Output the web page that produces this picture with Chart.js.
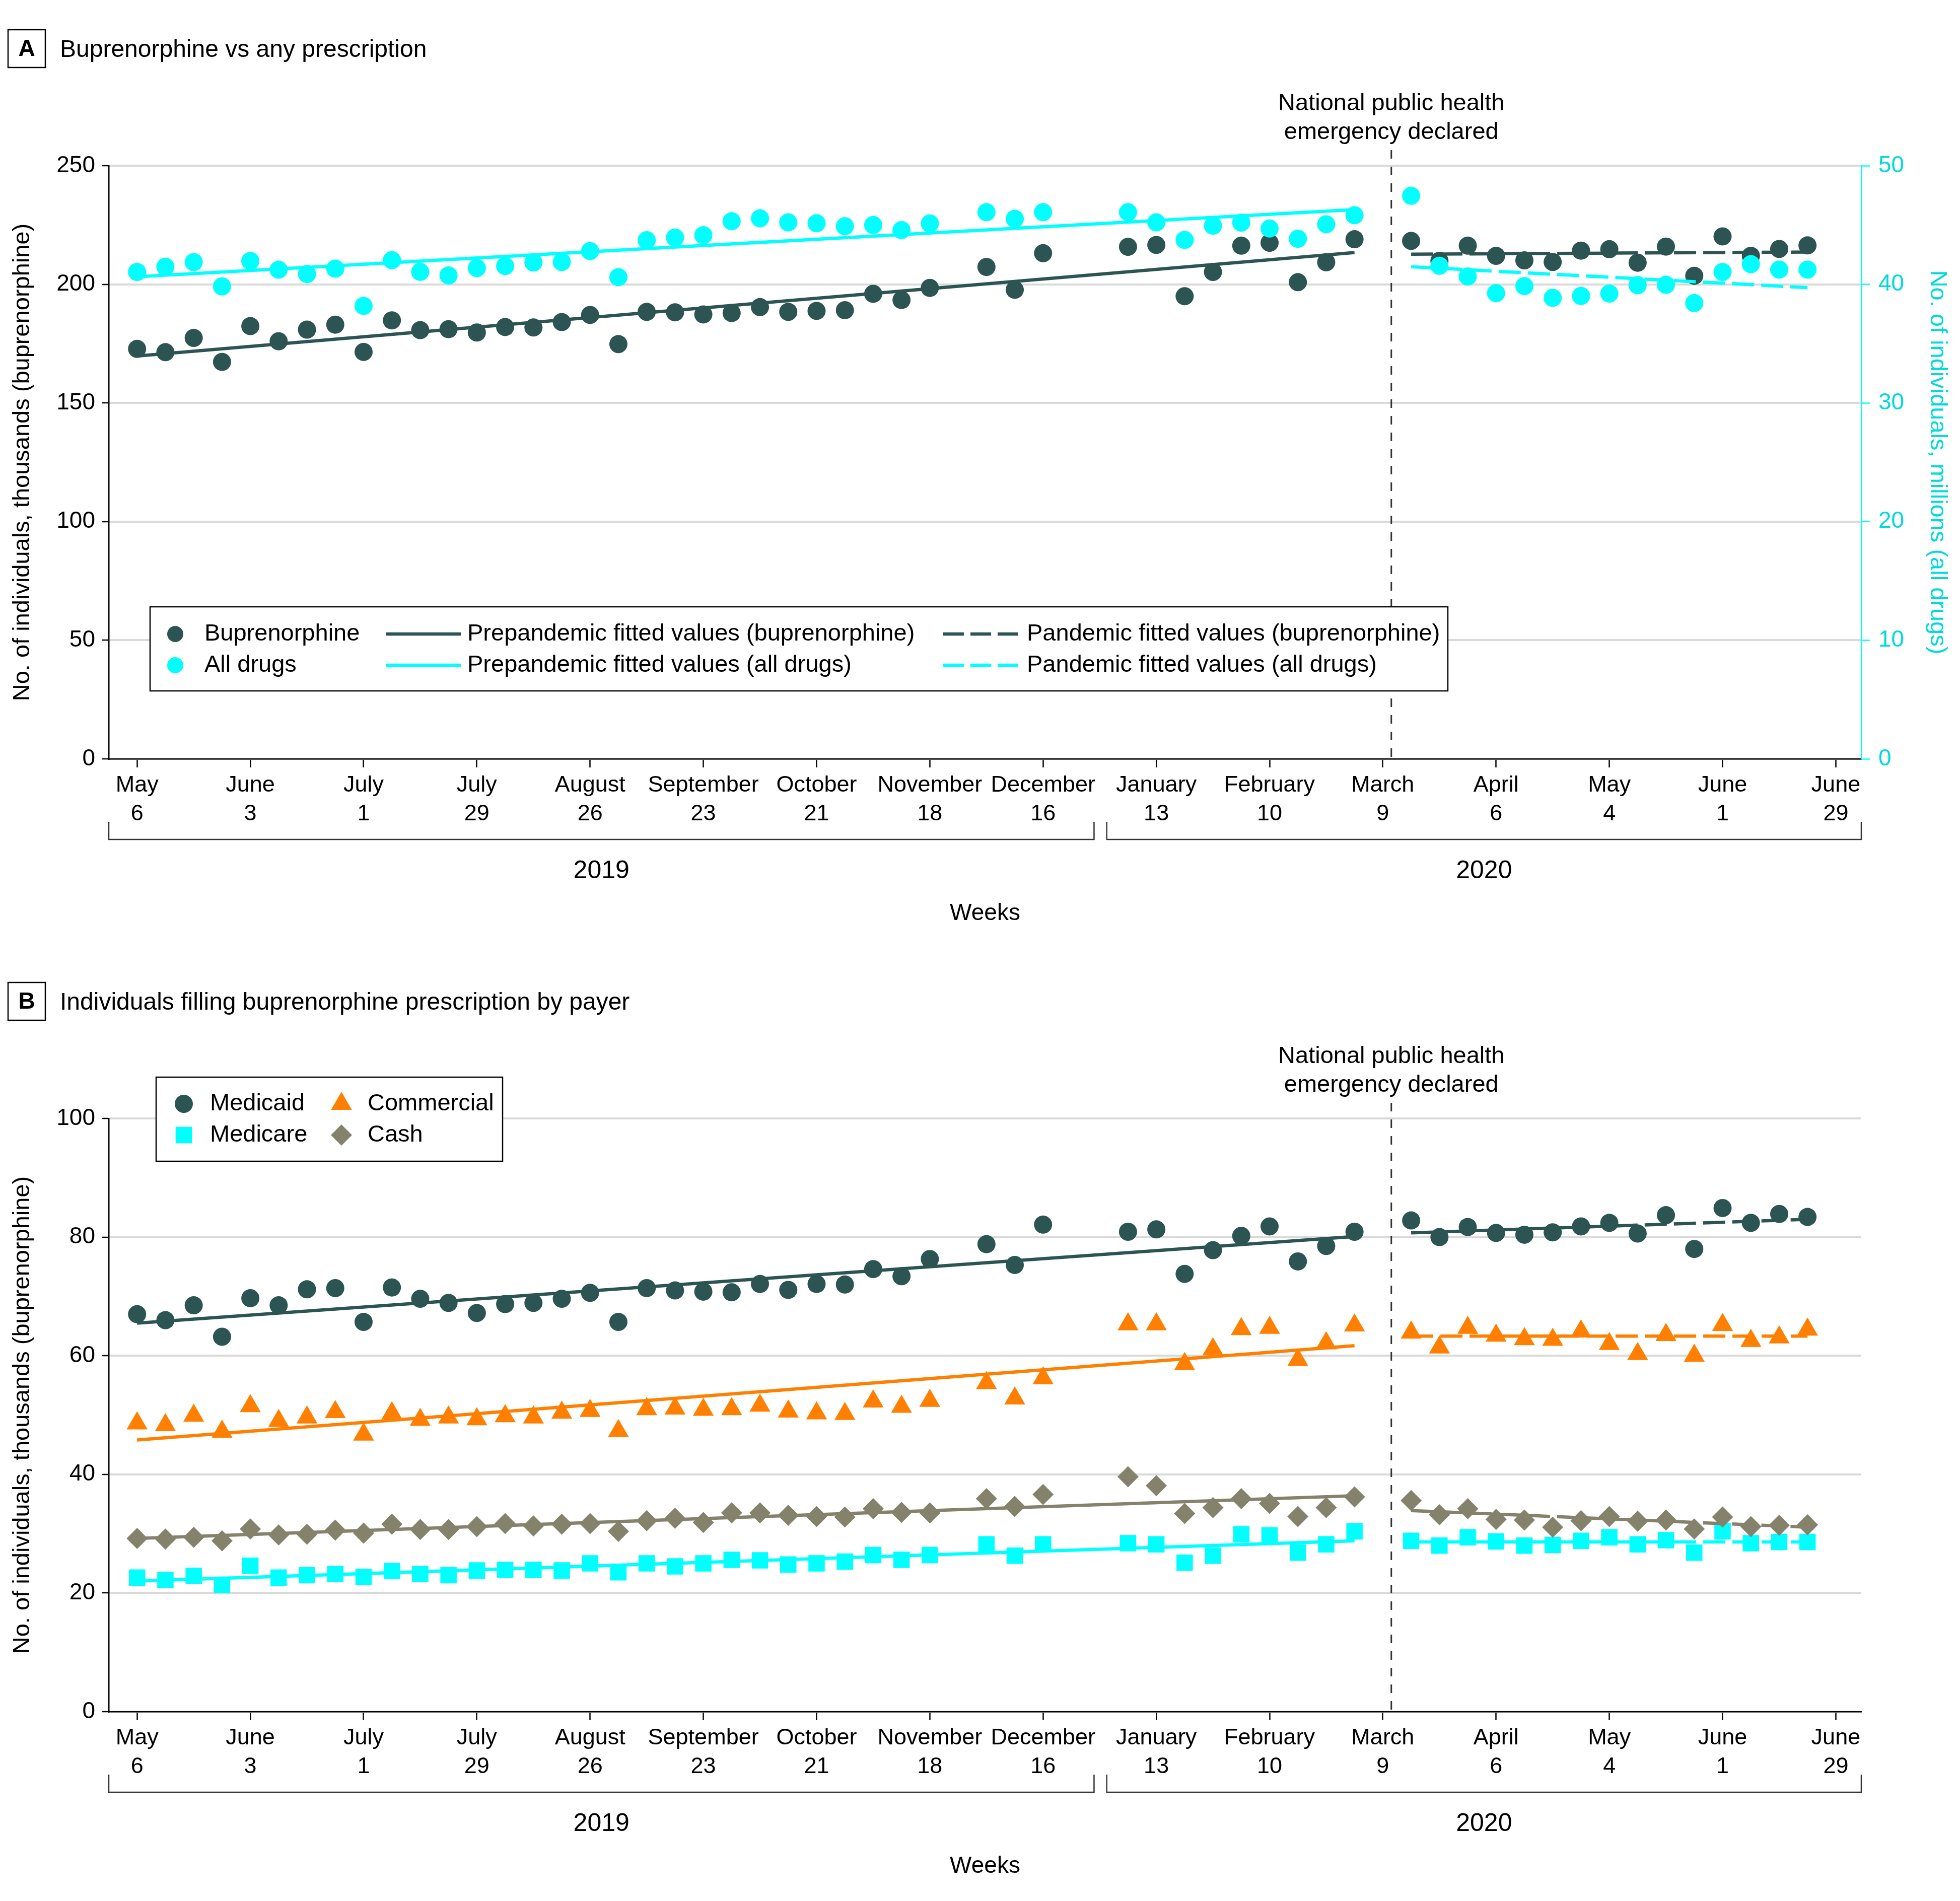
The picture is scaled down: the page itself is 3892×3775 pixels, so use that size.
<!DOCTYPE html>
<html>
<head>
<meta charset="utf-8">
<script src="https://cdn.jsdelivr.net/npm/chart.js@4.4.1/dist/chart.umd.min.js"></script>
<style>
  html, body { margin: 0; padding: 0; background: #fff; overflow: hidden; }
  .panel { position: absolute; left: 0; width: 3892px; height: 1892px; }
  #pa { top: 0; }
  #pb { top: 1892px; }
</style>
</head>
<body>
<div class="panel" id="pa"><canvas id="ca" width="3892" height="1892"></canvas></div>
<div class="panel" id="pb"><canvas id="cb" width="3892" height="1892"></canvas></div>
<script>
// Weekly buprenorphine fills, May 2019 - June 2020.
const FONT = '"Liberation Sans", Arial, sans-serif';
const DARK = '#2B5453', CYAN = '#00FFFF', CYAN_TXT = '#00DADA', ORANGE = '#FF8000', CASH = '#85826C', GRID = '#D9D9D9';

// x = weeks since May 6, 2019 (weeks of Nov 25, Dec 23, Dec 30 and Mar 9 are not plotted)
const weeks = [0, 1, 2, 3, 4, 5, 6, 7, 8, 9, 10, 11, 12, 13, 14,
  15, 16, 17, 18, 19, 20, 21, 22, 23, 24, 25, 26, 27, 28,
  30, 31, 32,
  35, 36, 37, 38, 39, 40, 41, 42, 43,
  45, 46, 47, 48, 49, 50, 51, 52, 53, 54, 55, 56, 57, 58, 59];
const tickWeeks = [0, 4, 8, 12, 16, 20, 24, 28, 32, 36, 40, 44, 48, 52, 56, 60];
const tickMonths = ['May', 'June', 'July', 'July', 'August', 'September', 'October', 'November', 'December',
  'January', 'February', 'March', 'April', 'May', 'June', 'June'];
const tickDays = ['6', '3', '1', '29', '26', '23', '21', '18', '16', '13', '10', '9', '6', '4', '1', '29'];
const years = ['2019', '2020'];
const yearSpans = [[-1, 33.8], [34.25, 60.9]];
const emergencyWeek = 44.3;

// panel A: buprenorphine (thousands) and all drugs (millions)
const buprenorphine = [172.8, 171.4, 177.4, 167.3, 182.4, 176.0, 180.9, 183.0, 171.5, 184.8, 180.7, 181.1, 179.7, 182.0, 181.8,
  184.1, 187.1, 174.8, 188.4, 188.2, 187.3, 187.9, 190.4, 188.4, 188.8, 189.1, 196.0, 193.4, 198.5,
  207.3, 197.7, 213.1,
  215.8, 216.6, 195.0, 205.2, 216.3, 217.5, 200.9, 209.3, 219.0,
  218.3, 209.9, 216.3, 212.0, 210.1, 209.4, 214.2, 214.8, 209.1, 215.9, 203.6, 220.2, 212.0, 214.9, 216.4];
const allDrugs = [41.04, 41.48, 41.87, 39.82, 41.97, 41.23, 40.87, 41.32, 38.18, 42.04, 41.05, 40.75, 41.37, 41.54, 41.84,
  41.88, 42.80, 40.60, 43.72, 43.94, 44.14, 45.32, 45.56, 45.22, 45.15, 44.90, 45.00, 44.57, 45.13,
  46.08, 45.52, 46.08,
  46.08, 45.22, 43.74, 44.94, 45.20, 44.70, 43.84, 45.06, 45.82,
  47.46, 41.56, 40.66, 39.26, 39.85, 38.86, 39.02, 39.22, 39.93, 39.96, 38.42, 41.04, 41.70, 41.24, 41.24];

// panel B: by payer (thousands)
const medicaid = [67.0, 66.0, 68.5, 63.2, 69.7, 68.5, 71.2, 71.4, 65.7, 71.5, 69.6, 68.9, 67.2, 68.7, 68.9,
  69.6, 70.6, 65.7, 71.4, 71.0, 70.8, 70.7, 72.1, 71.1, 72.1, 72.0, 74.6, 73.4, 76.3,
  78.8, 75.3, 82.1,
  80.9, 81.3, 73.8, 77.8, 80.2, 81.8, 75.9, 78.5, 80.9,
  82.8, 80.0, 81.7, 80.7, 80.4, 80.8, 81.8, 82.4, 80.6, 83.7, 78.0, 84.9, 82.4, 83.9, 83.4];
const commercial = [48.6, 48.3, 49.9, 47.2, 51.5, 49.0, 49.6, 50.5, 46.7, 50.3, 49.2, 49.6, 49.3, 49.8, 49.6,
  50.4, 50.7, 47.3, 51.0, 51.1, 50.9, 51.0, 51.6, 50.6, 50.3, 50.2, 52.3, 51.4, 52.4,
  55.4, 52.8, 56.2,
  65.3, 65.3, 58.6, 61.1, 64.5, 64.7, 59.3, 62.1, 65.1,
  63.9, 61.4, 64.7, 63.4, 62.8, 62.7, 64.1, 62.0, 60.3, 63.5, 60.0, 65.2, 62.5, 63.1, 64.4];
const cash = [29.2, 29.1, 29.4, 28.8, 30.8, 29.8, 29.9, 30.6, 30.1, 31.6, 30.7, 30.7, 31.2, 31.7, 31.3,
  31.6, 31.7, 30.4, 32.2, 32.6, 31.9, 33.5, 33.5, 33.1, 32.9, 32.8, 34.2, 33.6, 33.5,
  35.9, 34.6, 36.6,
  39.6, 38.1, 33.4, 34.4, 35.9, 35.1, 32.9, 34.4, 36.2,
  35.6, 33.2, 34.2, 32.4, 32.3, 31.1, 32.2, 32.9, 32.1, 32.3, 30.8, 32.8, 31.2, 31.4, 31.5];
const medicare = [22.6, 22.2, 22.9, 21.4, 24.6, 22.6, 23.0, 23.2, 22.7, 23.7, 23.2, 23.0, 23.8, 23.9, 23.9,
  23.8, 25.0, 23.5, 25.0, 24.5, 25.0, 25.6, 25.5, 24.8, 25.0, 25.3, 26.4, 25.6, 26.4,
  28.2, 26.3, 28.2,
  28.4, 28.2, 25.1, 26.3, 29.9, 29.7, 26.8, 28.2, 30.4,
  28.8, 28.0, 29.4, 28.7, 28.0, 28.1, 28.8, 29.4, 28.2, 28.9, 26.8, 30.4, 28.4, 28.6, 28.6];

// fitted trend lines: start and end values over these weeks
const fitPreWeeks = [0, 43], fitPanWeeks = [45, 59];
const bupFitPre = [169.8, 213.4], bupFitPan = [212.7, 213.6];
const allFitPre = [40.64, 46.3], allFitPan = [41.48, 39.72];
const medicaidFitPre = [65.5, 80.1], medicaidFitPan = [80.7, 83.0];
const commercialFitPre = [45.8, 61.7], commercialFitPan = [63.3, 63.3];
const cashFitPre = [29.2, 36.4], cashFitPan = [33.9, 31.1];
const medicareFitPre = [22.0, 28.8], medicareFitPan = [28.6, 28.6];

const DASH = [44, 14];
const pts = (ys, xs = weeks) => ys.map((y, i) => ({ x: xs[i], y }));
const dots = (label, ys, color, style, r, order, axis = 'y') => ({
  label, data: pts(ys), yAxisID: axis, showLine: false, order,
  backgroundColor: color, borderWidth: 0, pointStyle: style, pointRadius: r, pointHoverRadius: r,
});
const fit = (label, ys, xs, color, dash, axis = 'y') => ({
  label, data: pts(ys, xs), yAxisID: axis, showLine: true, order: 0,
  borderColor: color, borderWidth: 6.5, borderDash: dash, borderCapStyle: 'butt', pointRadius: 0, pointHoverRadius: 0, fill: false,
});

const font = (size, extra) => Object.assign({ family: FONT, size, lineHeight: 1.2 }, extra || {});

function xScale() {
  return {
    type: 'linear', min: -1, max: 60.9,
    afterBuildTicks: (s) => { s.ticks = tickWeeks.map((v) => ({ value: v })); },
    afterFit: (s) => { s.height = 385; },
    grid: { drawOnChartArea: false, tickLength: 17, tickColor: '#000', tickWidth: 2.5 },
    border: { color: '#000', width: 2.5 },
    ticks: {
      autoSkip: false, maxRotation: 0, minRotation: 0, padding: 7, color: '#000', font: font(45, { lineHeight: 1.27 }),
      callback: (v) => { const i = tickWeeks.indexOf(v); return i < 0 ? '' : [tickMonths[i], tickDays[i]]; },
    },
    title: { display: true, text: 'Weeks', color: '#000', font: font(46), padding: { top: 0, bottom: 50 } },
  };
}

function yScale(max, step) {
  return {
    type: 'linear', position: 'left', min: 0, max,
    afterFit: (s) => { s.width = 216; },
    grid: { color: GRID, lineWidth: 4, tickColor: '#000', tickLength: 14, tickWidth: 2.5 },
    border: { color: '#000', width: 2.5 },
    ticks: { stepSize: step, padding: 13, color: '#000', font: font(46) },
    title: { display: true, text: 'No. of individuals, thousands (buprenorphine)', color: '#000', font: font(47), padding: { top: 17 } },
  };
}

// panel heading, emergency marker, year brackets and the boxed legend
const decor = {
  id: 'decor',
  afterDraw(chart, args, o) {
    const { ctx, chartArea: ca } = chart;
    const x = chart.scales.x;
    ctx.save();
    ctx.strokeStyle = '#000'; ctx.lineWidth = 2.5;
    ctx.strokeRect(16, 59, 74, 75);
    ctx.fillStyle = '#000'; ctx.textAlign = 'center'; ctx.textBaseline = 'middle';
    ctx.font = `bold 46px ${FONT}`;
    ctx.fillText(o.letter, 53, 98);
    ctx.textAlign = 'left'; ctx.textBaseline = 'alphabetic';
    ctx.font = `48px ${FONT}`;
    ctx.fillText(o.heading, 119, 113);

    const ex = x.getPixelForValue(emergencyWeek);
    ctx.strokeStyle = '#333'; ctx.lineWidth = 3; ctx.setLineDash([17, 16]);
    ctx.beginPath(); ctx.moveTo(ex, 298); ctx.lineTo(ex, ca.bottom); ctx.stroke();
    ctx.setLineDash([]);
    ctx.textAlign = 'center'; ctx.textBaseline = 'middle'; ctx.font = `47px ${FONT}`;
    ctx.fillText('National public health', ex, 206);
    ctx.fillText('emergency declared', ex, 263);

    ctx.strokeStyle = '#333'; ctx.lineWidth = 2.5;
    ctx.font = `50px ${FONT}`;
    yearSpans.forEach(([a, b], i) => {
      const x0 = x.getPixelForValue(Math.max(a, x.min)), x1 = x.getPixelForValue(Math.min(b, x.max));
      ctx.beginPath(); ctx.moveTo(x0, 1632); ctx.lineTo(x0, 1667); ctx.lineTo(x1, 1667); ctx.lineTo(x1, 1632); ctx.stroke();
      ctx.fillText(years[i], (x0 + x1) / 2, 1730);
    });

    const lg = o.legend;
    ctx.fillStyle = '#fff';
    ctx.fillRect(lg.box[0], lg.box[1], lg.box[2], lg.box[3]);
    ctx.strokeStyle = '#000'; ctx.lineWidth = 2.5;
    ctx.strokeRect(lg.box[0], lg.box[1], lg.box[2], lg.box[3]);
    ctx.textAlign = 'left'; ctx.font = `47px ${FONT}`;
    for (const it of lg.items) {
      const y = lg.rows[it.row];
      if (it.dash) {
        ctx.strokeStyle = it.color; ctx.lineWidth = 6.5; ctx.setLineDash(it.dash);
        ctx.beginPath(); ctx.moveTo(it.mx, y); ctx.lineTo(it.mx + 148, y); ctx.stroke();
        ctx.setLineDash([]);
      } else {
        ctx.fillStyle = it.color;
        Chart.helpers.drawPoint(ctx, { pointStyle: it.style, radius: it.r, borderWidth: 0, rotation: 0 }, it.mx, y);
      }
      ctx.fillStyle = '#000';
      ctx.fillText(it.text, it.tx, y);
    }
    ctx.restore();
  },
};

new Chart(document.getElementById('ca'), {
  type: 'scatter',
  data: {
    datasets: [
      fit('Prepandemic fitted values (buprenorphine)', bupFitPre, fitPreWeeks, DARK, []),
      fit('Pandemic fitted values (buprenorphine)', bupFitPan, fitPanWeeks, DARK, DASH),
      fit('Prepandemic fitted values (all drugs)', allFitPre, fitPreWeeks, CYAN, [], 'y1'),
      fit('Pandemic fitted values (all drugs)', allFitPan, fitPanWeeks, CYAN, DASH, 'y1'),
      dots('All drugs', allDrugs, CYAN, 'circle', 18, 1, 'y1'),
      dots('Buprenorphine', buprenorphine, DARK, 'circle', 18, 2),
    ],
  },
  options: {
    responsive: false, animation: false, devicePixelRatio: 1,
    layout: { padding: { top: 329, left: 0, right: 0, bottom: 0 } },
    scales: {
      x: xScale(),
      y: yScale(250, 50),
      y1: {
        type: 'linear', position: 'right', min: 0, max: 50,
        afterFit: (s) => { s.width = 196; },
        grid: { drawOnChartArea: false, tickColor: CYAN, tickLength: 17, tickWidth: 2.5 },
        border: { color: CYAN, width: 3 },
        ticks: { stepSize: 10, padding: 17, color: CYAN_TXT, font: font(46) },
        title: { display: true, text: 'No. of individuals, millions (all drugs)', color: CYAN_TXT, font: font(47), padding: { top: 17 } },
      },
    },
    plugins: {
      legend: { display: false }, tooltip: { enabled: false },
      decor: {
        letter: 'A', heading: 'Buprenorphine vs any prescription',
        legend: {
          box: [298, 1205, 2577, 167], rows: [1259, 1321],
          items: [
            { row: 0, mx: 348, tx: 406, style: 'circle', r: 16, color: DARK, text: 'Buprenorphine' },
            { row: 1, mx: 348, tx: 406, style: 'circle', r: 16, color: CYAN, text: 'All drugs' },
            { row: 0, mx: 767, tx: 928, dash: [], color: DARK, text: 'Prepandemic fitted values (buprenorphine)' },
            { row: 1, mx: 767, tx: 928, dash: [], color: CYAN, text: 'Prepandemic fitted values (all drugs)' },
            { row: 0, mx: 1873, tx: 2039, dash: [41, 13], color: DARK, text: 'Pandemic fitted values (buprenorphine)' },
            { row: 1, mx: 1873, tx: 2039, dash: [41, 13], color: CYAN, text: 'Pandemic fitted values (all drugs)' },
          ],
        },
      },
    },
  },
  plugins: [decor],
});

new Chart(document.getElementById('cb'), {
  type: 'scatter',
  data: {
    datasets: [
      fit('Medicaid fit', medicaidFitPre, fitPreWeeks, DARK, []),
      fit('Medicaid pandemic fit', medicaidFitPan, fitPanWeeks, DARK, DASH),
      fit('Commercial fit', commercialFitPre, fitPreWeeks, ORANGE, []),
      fit('Commercial pandemic fit', commercialFitPan, fitPanWeeks, ORANGE, DASH),
      fit('Cash fit', cashFitPre, fitPreWeeks, CASH, []),
      fit('Cash pandemic fit', cashFitPan, fitPanWeeks, CASH, DASH),
      fit('Medicare fit', medicareFitPre, fitPreWeeks, CYAN, []),
      fit('Medicare pandemic fit', medicareFitPan, fitPanWeeks, CYAN, DASH),
      dots('Cash', cash, CASH, 'rectRot', 21, 1),
      dots('Medicare', medicare, CYAN, 'rect', 23, 2),
      dots('Commercial', commercial, ORANGE, 'triangle', 24, 3),
      dots('Medicaid', medicaid, DARK, 'circle', 18, 4),
    ],
  },
  options: {
    responsive: false, animation: false, devicePixelRatio: 1,
    layout: { padding: { top: 329, left: 0, right: 196, bottom: 0 } },
    scales: { x: xScale(), y: yScale(100, 20) },
    plugins: {
      legend: { display: false }, tooltip: { enabled: false },
      decor: {
        letter: 'B', heading: 'Individuals filling buprenorphine prescription by payer',
        legend: {
          box: [310, 247, 688, 167], rows: [300, 362],
          items: [
            { row: 0, mx: 365, tx: 417, style: 'circle', r: 18, color: DARK, text: 'Medicaid' },
            { row: 1, mx: 365, tx: 417, style: 'rect', r: 23, color: CYAN, text: 'Medicare' },
            { row: 0, mx: 678, tx: 730, style: 'triangle', r: 24, color: ORANGE, text: 'Commercial' },
            { row: 1, mx: 678, tx: 730, style: 'rectRot', r: 21, color: CASH, text: 'Cash' },
          ],
        },
      },
    },
  },
  plugins: [decor],
});
</script>
</body>
</html>
